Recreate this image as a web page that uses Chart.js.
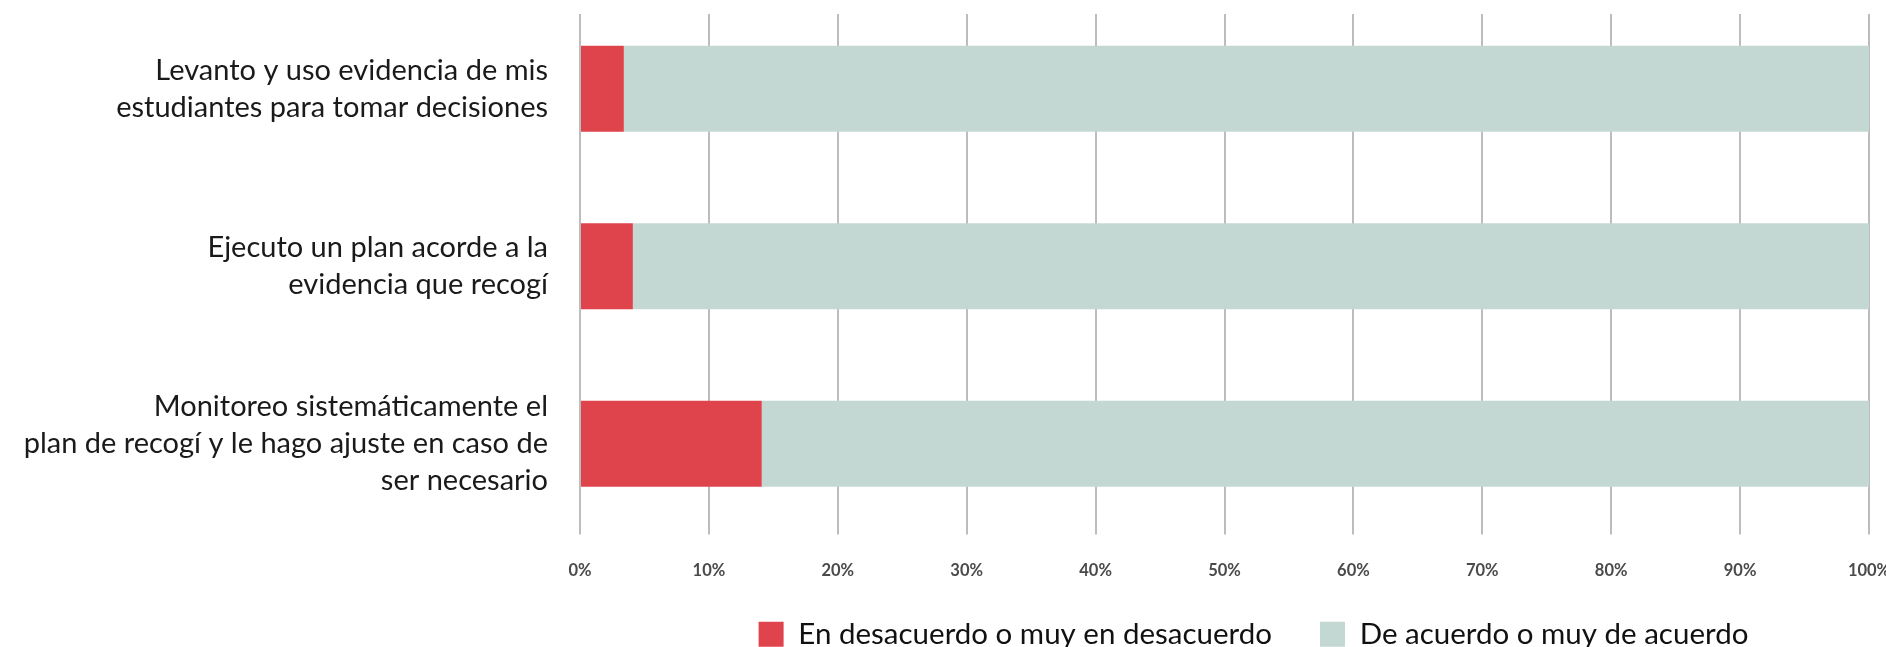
<!DOCTYPE html>
<html>
<head>
<meta charset="utf-8">
<script src="https://cdn.jsdelivr.net/npm/chart.js@4.4.0/dist/chart.umd.min.js"></script>
<style>
  html, body { margin: 0; padding: 0; background: #fff; overflow: hidden; }
  #wrap { position: relative; width: 1900px; height: 673px; }
</style>
</head>
<body>
<div id="wrap"><canvas id="chart"></canvas></div>
<script>
// survey statements (one array entry per line of the label)
const categories = [
  ["Levanto y uso evidencia de mis", "estudiantes para tomar decisiones"],
  ["Ejecuto un plan acorde a la", "evidencia que recogí"],
  ["Monitoreo sistemáticamente el", "plan de recogí y le hago ajuste en caso de", "ser necesario"]
];
const seriesNames = ["En desacuerdo o muy en desacuerdo", "De acuerdo o muy de acuerdo"];
const disagree = [3.4, 4.1, 14.1];
const agree = [96.6, 95.9, 85.9];
const percentTicks = [0, 10, 20, 30, 40, 50, 60, 70, 80, 90, 100];

Chart.defaults.font.family = "Lato";

// keeps the gridlines a bit short of the top, like the original
const gridGap = {
  id: "gridGap",
  beforeDatasetsDraw(chart) {
    const { ctx, chartArea } = chart;
    ctx.save();
    ctx.fillStyle = "#fff";
    ctx.fillRect(chartArea.left - 3, chartArea.top, chartArea.width + 6, 14);
    ctx.restore();
  }
};

// legend sits a little right of center and tucks up under the ticks
const legendNudge = {
  id: "legendNudge",
  afterLayout(chart) {
    const lg = chart.legend;
    lg.left += 29;
    lg.right += 29;
    lg.top -= 14;
    lg.bottom -= 14;
  }
};

new Chart(document.getElementById("chart"), {
  type: "bar",
  data: {
    labels: categories,
    datasets: [
      {
        label: seriesNames[0],
        data: disagree,
        backgroundColor: "#df434c",
        barPercentage: 0.484,
        categoryPercentage: 1
      },
      {
        label: seriesNames[1],
        data: agree,
        backgroundColor: "#c3d8d3",
        barPercentage: 0.484,
        categoryPercentage: 1
      }
    ]
  },
  options: {
    indexAxis: "y",
    responsive: true,
    maintainAspectRatio: false,
    animation: false,
    layout: { padding: { top: 0, right: 31, left: 0, bottom: 0 } },
    scales: {
      x: {
        stacked: true,
        min: 0,
        max: 100,
        afterBuildTicks: s => { s.ticks = percentTicks.map(v => ({ value: v })); },
        afterFit: s => { s.height = 53; s.paddingLeft = 0; s.paddingRight = 0; },
        grid: { color: "#bdbdbd", lineWidth: 2, tickLength: 2 },
        border: { display: false },
        ticks: {
          padding: 26,
          color: "#4a4a4a",
          font: { size: 16.5, weight: "bold" },
          callback: v => v + "%"
        }
      },
      y: {
        stacked: true,
        afterFit: s => { s.width = 580; s.paddingTop = 0; s.paddingBottom = 0; },
        grid: { display: false },
        border: { display: false },
        ticks: {
          padding: 24,
          autoSkip: false,
          color: "#1a1a1a",
          font: { size: 29, lineHeight: 1.28 }
        }
      }
    },
    plugins: {
      tooltip: { enabled: false },
      legend: {
        position: "bottom",
        fullSize: false,
        labels: {
          boxWidth: 25,
          boxHeight: 25,
          padding: 48,
          color: "#111",
          font: { size: 29.5 }
        }
      }
    }
  },
  plugins: [gridGap, legendNudge]
});
</script>
</body>
</html>
